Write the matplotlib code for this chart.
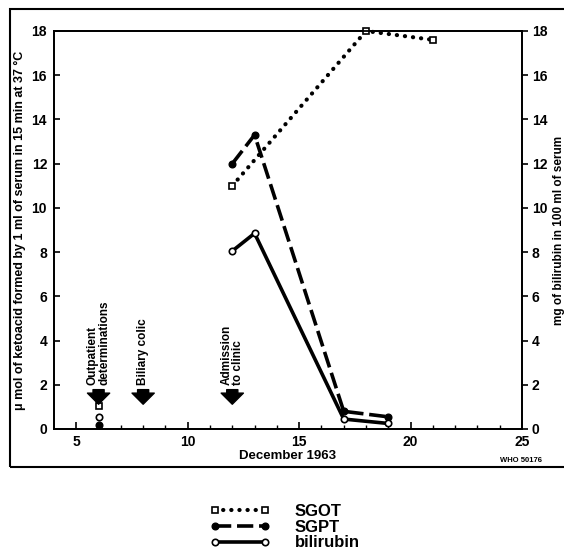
import matplotlib
matplotlib.use('Agg')
import matplotlib.pyplot as plt
from matplotlib.patches import Rectangle

plt.rcParams['font.family'] = ['Liberation Sans', 'DejaVu Sans']
plt.rcParams['font.weight'] = 'bold'

# data (December 1963)
sgot_days = [12, 18, 21]
sgot_vals = [11.0, 18.0, 17.6]
sgpt_days = [12, 13, 17, 19]
sgpt_vals = [12.0, 13.3, 0.8, 0.55]
bili_days = [12, 13, 17, 19]
bili_vals = [8.05, 8.85, 0.45, 0.25]

# outpatient determinations (single points)
out_day = 6
out_sgot = 1.05
out_sgpt = 0.2
out_bili = 0.55

event_days = [6, 8, 12]
event_labels = ['Outpatient\ndeterminations', 'Biliary colic', 'Admission\nto clinic']

x_ticks = [5, 10, 15, 20, 25]
y_ticks = list(range(0, 19, 2))

fig = plt.figure(figsize=(5.64, 5.55), dpi=100)
ax = fig.add_axes([54 / 564, 1 - 429 / 555, 468 / 564, 398 / 555])
ax2 = ax.twinx()

ax.plot(sgot_days, sgot_vals, color='black', lw=3, linestyle=(0, (0.05, 1.9)),
        dash_capstyle='round', marker='s', markersize=4.2, markerfacecolor='white',
        markeredgewidth=1.2, label='SGOT', clip_on=False, zorder=5)
ax.plot([out_day], [out_sgot], marker='s', markersize=4.2, color='black',
        markerfacecolor='white', markeredgewidth=1.2, linestyle='none')

ax.plot(sgpt_days, sgpt_vals, color='black', lw=2.6, linestyle=(0, (4.5, 1.6)),
        marker='o', markersize=4.8, label='SGPT')
ax.plot([out_day], [out_sgpt], marker='o', markersize=4.8, color='black', linestyle='none')

ax2.plot(bili_days, bili_vals, color='black', lw=2.6, marker='o', markersize=4.6,
         markerfacecolor='white', markeredgewidth=1.2, label='bilirubin')
ax2.plot([out_day], [out_bili], marker='o', markersize=4.6, color='black',
         markerfacecolor='white', markeredgewidth=1.2, linestyle='none')

for d, lab in zip(event_days, event_labels):
    ax.annotate('', xy=(d, 1.12), xytext=(d, 1.78),
                arrowprops=dict(arrowstyle='simple,head_width=1.6,head_length=0.8,tail_width=0.8',
                                color='black', shrinkA=0, shrinkB=0))
    ax.text(d, 2.0, lab, rotation=90, ha='center', va='bottom', fontsize=8.5,
            fontweight='bold', linespacing=0.95, multialignment='left')

for a in (ax, ax2):
    a.set_xlim(4, 25)
    a.set_ylim(0, 18)
    for s in a.spines.values():
        s.set_linewidth(1.3)

ax.set_xticks(x_ticks)
ax.set_xticks(range(5, 26), minor=True)
ax.set_yticks(y_ticks)
ax.tick_params(axis='x', direction='in', length=5, width=1.2, labelsize=10, pad=4)
ax.tick_params(axis='x', which='minor', direction='in', length=3, width=1.0)
ax.tick_params(axis='y', direction='in', length=4, width=1.2, labelsize=10, pad=5)
ax2.set_yticks(y_ticks)
ax2.tick_params(axis='y', direction='out', length=4, width=1.2, labelsize=10, pad=3)

ax.set_xlabel('December 1963', fontsize=9.5, fontweight='bold', labelpad=1)
ax.set_ylabel('\u03bc mol of ketoacid formed by 1 ml of serum in 15 min at 37 \u00b0C',
              fontsize=9, fontweight='bold', labelpad=4)
ax2.set_ylabel('mg of bilirubin in 100 ml of serum', fontsize=8.5, fontweight='bold',
               labelpad=4)

fig.text(500 / 564, 1 - 461 / 555, 'WHO 50176', fontsize=5.5, ha='left', va='center')

# outer frame
fig.patches.append(Rectangle((10 / 564, 1 - 467 / 555), 1.0, 458 / 555,
                             transform=fig.transFigure, fill=False, lw=1.5,
                             edgecolor='black', clip_on=False))

h1, l1 = ax.get_legend_handles_labels()
h2, l2 = ax2.get_legend_handles_labels()
fig.legend(h1 + h2, l1 + l2, loc='center', bbox_to_anchor=(285 / 564, 1 - 527 / 555),
           frameon=False, numpoints=2, handlelength=3.6, handletextpad=1.5,
           labelspacing=0.05, prop={'size': 12, 'weight': 'bold'})

fig.savefig('out.png', dpi=100)
